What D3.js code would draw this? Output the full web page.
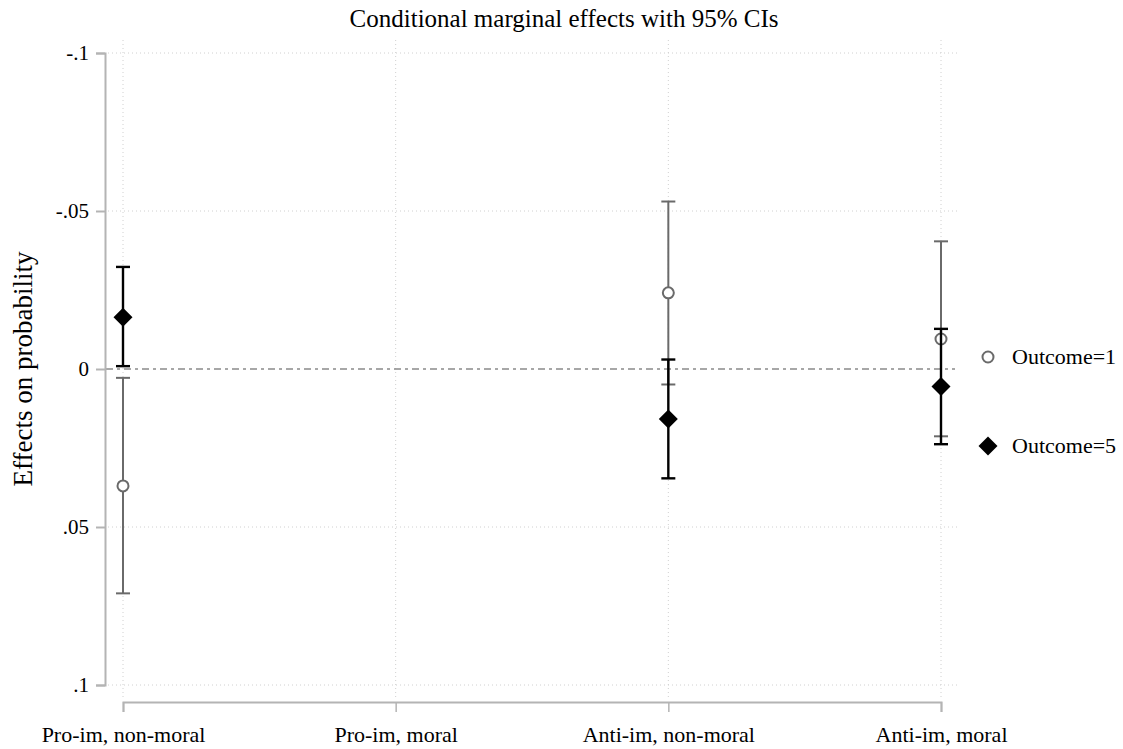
<!DOCTYPE html>
<html><head><meta charset="utf-8">
<script src="https://cdn.jsdelivr.net/npm/d3@7"></script>
<style>body{margin:0;background:#fff;} svg{display:block;font-family:"Liberation Serif","Times New Roman",serif;}</style>
</head><body><svg id="c" width="1123" height="749"></svg>
<script>
const categories = ["Pro-im, non-moral","Pro-im, moral","Anti-im, non-moral","Anti-im, moral"];
const yTicks = [-0.1,-0.05,0,0.05,0.1];
const yTickLabels = ["-.1","-.05","0",".05",".1"];
// Outcome=1 (null = not estimated)
const est1 = [0.0370, null, -0.0241, -0.0095];
const lo1  = [0.0028, null, -0.0530, -0.0404];
const hi1  = [0.0710, null,  0.0049,  0.0213];
// Outcome=5
const est5 = [-0.0164, null, 0.0158, 0.0055];
const lo5  = [-0.0323, null, -0.0030, -0.0127];
const hi5  = [-0.0009, null, 0.0346, 0.0238];
const seriesNames = ["Outcome=1","Outcome=5"];

const svg = d3.select("#c");
const x = d3.scalePoint().domain(categories).range([123, 941]);
const y = d3.scaleLinear().domain([-0.1, 0.1]).range([53, 685]);
const axisCol = "#b4b4b4";
const serif = "Liberation Serif";

// gridlines
const g = svg.append("g");
g.selectAll("line.vg").data(categories).enter().append("line")
  .attr("x1", d=>x(d)).attr("x2", d=>x(d)).attr("y1", 40).attr("y2", 700)
  .attr("stroke","#d0d0d0").attr("stroke-width",1).attr("stroke-dasharray","1,3");
g.selectAll("line.hg").data(yTicks.filter(t=>t!==0)).enter().append("line")
  .attr("x1", 108).attr("x2", 958).attr("y1", d=>y(d)).attr("y2", d=>y(d))
  .attr("stroke","#d0d0d0").attr("stroke-width",1).attr("stroke-dasharray","1,3");
// zero line
g.append("line").attr("x1",106).attr("x2",955).attr("y1",y(0)).attr("y2",y(0))
  .attr("stroke","#8a8a8a").attr("stroke-width",1.6).attr("stroke-dasharray","7,4,3,4");

// y axis
const ya = svg.append("g").attr("transform","translate(105,0)")
  .call(d3.axisLeft(y).tickValues(yTicks).tickFormat((d,i)=>yTickLabels[i]).tickSize(9).tickPadding(7));
ya.attr("font-family",serif).attr("font-size",21);
ya.select(".domain").attr("stroke",axisCol).attr("stroke-width",2);
ya.selectAll(".tick line").attr("stroke",axisCol).attr("stroke-width",2);
ya.selectAll(".tick text").attr("font-size",21).attr("font-family",serif).attr("fill","#000");

// x axis
const xa = svg.append("g").attr("transform","translate(0,702)")
  .call(d3.axisBottom(x).tickSize(10).tickPadding(14));
xa.attr("font-family",serif).attr("font-size",22);
xa.select(".domain").attr("stroke",axisCol).attr("stroke-width",2);
xa.selectAll(".tick line").attr("stroke",axisCol).attr("stroke-width",1.5);
xa.selectAll(".tick text").attr("font-size",22).attr("font-family",serif).attr("fill","#000");

// title
svg.append("text").attr("x",564).attr("y",27).attr("text-anchor","middle")
  .attr("font-size",25).attr("font-family",serif).text("Conditional marginal effects with 95% CIs");
svg.append("text").attr("transform","translate(32,369) rotate(-90)").attr("text-anchor","middle")
  .attr("font-size",27).attr("font-family",serif).text("Effects on probability");

function drawSeries(est, lo, hi, col, width){
  const data = categories.map((c,i)=>({c, e:est[i], l:lo[i], h:hi[i]})).filter(d=>d.e!==null);
  const s = svg.append("g");
  s.selectAll("line.bar").data(data).enter().append("line")
    .attr("x1",d=>x(d.c)).attr("x2",d=>x(d.c)).attr("y1",d=>y(d.l)).attr("y2",d=>y(d.h))
    .attr("stroke",col).attr("stroke-width",width);
  ["l","h"].forEach(k=>{
    s.selectAll("line.cap"+k).data(data).enter().append("line")
      .attr("x1",d=>x(d.c)-7).attr("x2",d=>x(d.c)+7).attr("y1",d=>y(d[k])).attr("y2",d=>y(d[k]))
      .attr("stroke",col).attr("stroke-width",width);
  });
  return {s, data};
}
const r1 = drawSeries(est1, lo1, hi1, "#6a6a6a", 2);
const r5 = drawSeries(est5, lo5, hi5, "#000", 2.4);
const dia = (cx,cy,r)=>`M${cx},${cy-r}L${cx+r},${cy}L${cx},${cy+r}L${cx-r},${cy}Z`;
r1.s.selectAll("circle").data(r1.data).enter().append("circle")
  .attr("cx",d=>x(d.c)).attr("cy",d=>y(d.e)).attr("r",5.5)
  .attr("fill","#fff").attr("stroke","#6a6a6a").attr("stroke-width",2);
r5.s.selectAll("path").data(r5.data).enter().append("path")
  .attr("d",d=>dia(x(d.c),y(d.e),9.5)).attr("fill","#000");

// legend
const lg = svg.append("g").attr("font-family",serif);
lg.append("circle").attr("cx",988).attr("cy",357).attr("r",5.5).attr("fill","#fff")
  .attr("stroke","#6a6a6a").attr("stroke-width",2);
lg.append("path").attr("d",dia(988,446,9.5)).attr("fill","#000");
lg.append("text").attr("x",1012).attr("y",364).attr("font-size",22).text(seriesNames[0]);
lg.append("text").attr("x",1012).attr("y",453).attr("font-size",22).text(seriesNames[1]);
</script></body></html>
